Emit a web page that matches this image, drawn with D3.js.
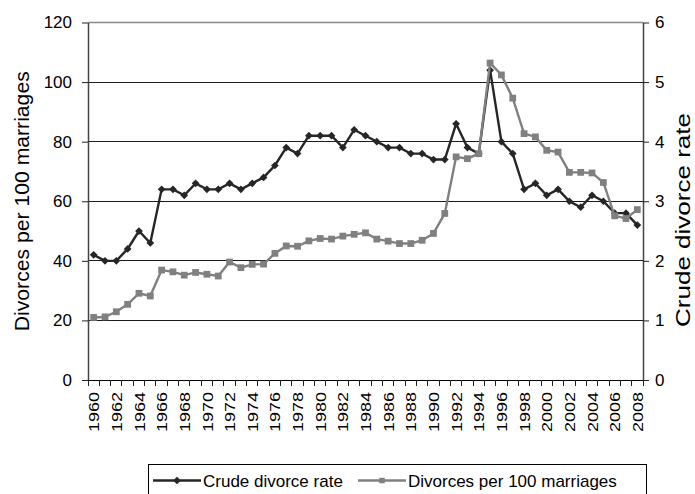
<!DOCTYPE html>
<html>
<head>
<meta charset="utf-8">
<script src="https://cdn.jsdelivr.net/npm/d3@7"></script>
<style>
  body { margin: 0; background: #fff; }
  svg { display: block; font-family: "Liberation Sans", Arial, sans-serif; }
</style>
</head>
<body>
<svg id="chart" width="695" height="494"></svg>
<script>
// Data
const years = [1960, 1961, 1962, 1963, 1964, 1965, 1966, 1967, 1968, 1969,
    1970, 1971, 1972, 1973, 1974, 1975, 1976, 1977, 1978, 1979,
    1980, 1981, 1982, 1983, 1984, 1985, 1986, 1987, 1988, 1989,
    1990, 1991, 1992, 1993, 1994, 1995, 1996, 1997, 1998, 1999,
    2000, 2001, 2002, 2003, 2004, 2005, 2006, 2007, 2008];
const crudeRate = [2.1, 2.0, 2.0, 2.2, 2.5, 2.3, 3.2, 3.2, 3.1, 3.3,
    3.2, 3.2, 3.3, 3.2, 3.3, 3.4, 3.6, 3.9, 3.8, 4.1,
    4.1, 4.1, 3.9, 4.2, 4.1, 4.0, 3.9, 3.9, 3.8, 3.8,
    3.7, 3.7, 4.3, 3.9, 3.8, 5.2, 4.0, 3.8, 3.2, 3.3,
    3.1, 3.2, 3.0, 2.9, 3.1, 3.0, 2.8, 2.8, 2.6];
const divorcesPer100 = [21.0, 21.2, 22.9, 25.4, 29.1, 28.2, 36.9, 36.3, 35.2, 36.1,
    35.5, 34.9, 39.6, 37.7, 38.8, 38.9, 42.5, 45.0, 44.9, 46.7,
    47.5, 47.3, 48.3, 48.9, 49.4, 47.3, 46.6, 45.8, 45.8, 46.9,
    49.2, 55.9, 74.9, 74.3, 76.0, 106.4, 102.4, 94.6, 82.7, 81.6,
    77.1, 76.5, 69.7, 69.7, 69.5, 66.3, 55.1, 54.2, 57.2];
const leftTicks = [0, 20, 40, 60, 80, 100, 120];
const rightTicks = [0, 1, 2, 3, 4, 5, 6];
const seriesNames = ["Crude divorce rate", "Divorces per 100 marriages"];

let viewChart = {
    render: function() {
        const svg = d3.select("#chart");
        svg.selectAll("*").remove();

        const plot = { left: 88, right: 643, top: 22.5, bottom: 380 };

        // Scales
        const xScale = d3.scaleBand()
            .domain(years)
            .range([plot.left, plot.right]);
        const yLeft = d3.scaleLinear()
            .domain([0, 120])
            .range([plot.bottom, plot.top]);
        const yRight = d3.scaleLinear()
            .domain([0, 6])
            .range([plot.bottom, plot.top]);
        const cx = (d) => xScale(d) + xScale.bandwidth() / 2;

        // Gridlines
        svg.append("g").selectAll("line")
            .data(leftTicks.filter(d => d > 0 && d < 120))
            .enter().append("line")
            .attr("x1", plot.left).attr("x2", plot.right)
            .attr("y1", d => yLeft(d)).attr("y2", d => yLeft(d))
            .attr("stroke", "#1a1a1a")
            .attr("stroke-width", 1)
            .attr("shape-rendering", "crispEdges");
        // top border of plot area
        svg.append("line")
            .attr("x1", plot.left).attr("x2", plot.right)
            .attr("y1", yLeft(120)).attr("y2", yLeft(120))
            .attr("stroke", "#888")
            .attr("stroke-width", 1.5);

        // Left and right axes
        const leftAxis = svg.append("g")
            .attr("transform", `translate(${plot.left},0)`)
            .call(d3.axisLeft(yLeft).tickValues(leftTicks).tickSize(6).tickSizeOuter(0).tickPadding(10));
        const rightAxis = svg.append("g")
            .attr("transform", `translate(${plot.right},0)`)
            .call(d3.axisRight(yRight).tickValues(rightTicks)
                .tickFormat(d3.format("d"))
                .tickSize(6).tickSizeOuter(0).tickPadding(6));
        [leftAxis, rightAxis].forEach(ax => {
            ax.select(".domain").attr("stroke", "#444").attr("stroke-width", 1.5);
            ax.selectAll(".tick line").attr("stroke", "#222");
            ax.selectAll("text")
                .style("font-size", "17px")
                .style("font-family", "'Liberation Sans', Arial, sans-serif")
                .attr("fill", "#000");
        });

        // Bottom axis: labels every other year, ticks on category boundaries
        const xAxis = svg.append("g")
            .attr("transform", `translate(0,${plot.bottom})`)
            .call(d3.axisBottom(xScale)
                .tickValues(years.filter((d, i) => i % 2 === 0))
                .tickSize(0)
                .tickSizeOuter(0));
        xAxis.select(".domain").attr("stroke", "#000").attr("stroke-width", 1);
        xAxis.selectAll("text")
            .attr("transform", "rotate(-90)")
            .attr("x", -12)
            .attr("y", 0)
            .attr("dy", "0.36em")
            .attr("text-anchor", "end")
            .attr("textLength", 40)
            .attr("lengthAdjust", "spacingAndGlyphs")
            .style("font-size", "15.5px")
            .style("font-family", "'Liberation Sans', Arial, sans-serif")
            .attr("fill", "#000");
        xAxis.append("g").selectAll("line")
            .data(years.concat(["end"]))
            .enter().append("line")
            .attr("x1", d => d === "end" ? plot.right : xScale(d))
            .attr("x2", d => d === "end" ? plot.right : xScale(d))
            .attr("y1", 0).attr("y2", 6)
            .attr("stroke", "#222")
            .attr("shape-rendering", "crispEdges");

        // Axis titles
        svg.append("text")
            .attr("transform", `translate(28.5,${(plot.top + plot.bottom) / 2}) rotate(-90)`)
            .attr("text-anchor", "middle")
            .attr("textLength", 260)
            .attr("lengthAdjust", "spacingAndGlyphs")
            .style("font-size", "21px")
            .text("Divorces per 100 marriages");
        svg.append("text")
            .attr("transform", "translate(690,220) rotate(-90)")
            .attr("text-anchor", "middle")
            .attr("textLength", 214)
            .attr("lengthAdjust", "spacingAndGlyphs")
            .style("font-size", "21px")
            .text("Crude divorce rate");

        // Series
        const crudeLine = d3.line()
            .x((d, i) => cx(years[i]))
            .y(d => yRight(d));
        const marriagesLine = d3.line()
            .x((d, i) => cx(years[i]))
            .y(d => yLeft(d));

        svg.append("path")
            .datum(crudeRate)
            .attr("d", crudeLine)
            .attr("fill", "none")
            .attr("stroke", "#262626")
            .attr("stroke-width", 2.4);
        svg.append("g").selectAll("path")
            .data(crudeRate)
            .enter().append("path")
            .attr("d", d3.symbol(d3.symbolSquare, 30))
            .attr("transform", (d, i) => `translate(${cx(years[i])},${yRight(d)}) rotate(45)`)
            .attr("fill", "#262626");

        svg.append("path")
            .datum(divorcesPer100)
            .attr("d", marriagesLine)
            .attr("fill", "none")
            .attr("stroke", "#808080")
            .attr("stroke-width", 2.4);
        svg.append("g").selectAll("path")
            .data(divorcesPer100)
            .enter().append("path")
            .attr("d", d3.symbol(d3.symbolSquare, 46))
            .attr("transform", (d, i) => `translate(${cx(years[i])},${yLeft(d)})`)
            .attr("fill", "#808080");

        // Legend
        const legend = svg.append("g");
        legend.append("rect")
            .attr("x", 148.5).attr("y", 464.5)
            .attr("width", 498).attr("height", 40)
            .attr("fill", "#fff")
            .attr("stroke", "#000");
        const items = [
            { name: seriesNames[0], x: 153, color: "#262626", marker: d3.symbol(d3.symbolSquare, 30), rot: 45 },
            { name: seriesNames[1], x: 358, color: "#808080", marker: d3.symbol(d3.symbolSquare, 30), rot: 0 }
        ];
        items.forEach(it => {
            const g = legend.append("g").attr("transform", `translate(${it.x},480.5)`);
            g.append("line")
                .attr("x1", 0).attr("x2", 48)
                .attr("stroke", it.color).attr("stroke-width", 2.4);
            g.append("path")
                .attr("d", it.marker)
                .attr("transform", `translate(24,0) rotate(${it.rot})`)
                .attr("fill", it.color);
            g.append("text")
                .attr("x", 50).attr("y", 6)
                .style("font-size", "17px")
                .text(it.name);
        });
    }
}

viewChart.render();
</script>
</body>
</html>
